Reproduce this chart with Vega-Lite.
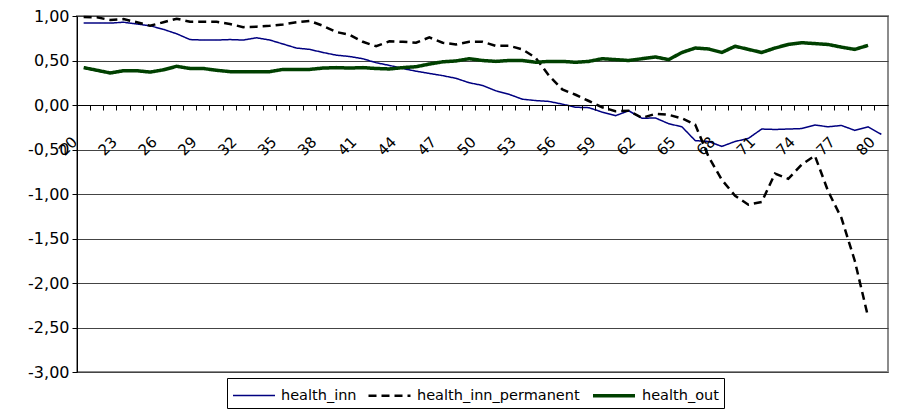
{
  "$schema": "https://vega.github.io/schema/vega-lite/v6.json",
  "width": 811,
  "height": 356,
  "autosize": {"type": "none"},
  "padding": {"left": 77, "top": 16, "right": 20, "bottom": 47},
  "background": "white",
  "config": {
    "view": {"stroke": "#8c8c8c", "strokeWidth": 2},
    "locale": {"number": {"decimal": ",", "thousands": ".", "grouping": [3], "currency": ["", " €"], "minus": "-"}}
  },
  "datasets": {
    "rows": [
      {"age":20,"series":"health_inn","value":0.92},{"age":21,"series":"health_inn","value":0.92},{"age":22,"series":"health_inn","value":0.92},{"age":23,"series":"health_inn","value":0.93},{"age":24,"series":"health_inn","value":0.91},{"age":25,"series":"health_inn","value":0.89},{"age":26,"series":"health_inn","value":0.85},{"age":27,"series":"health_inn","value":0.80},{"age":28,"series":"health_inn","value":0.735},{"age":29,"series":"health_inn","value":0.73},{"age":30,"series":"health_inn","value":0.73},{"age":31,"series":"health_inn","value":0.735},{"age":32,"series":"health_inn","value":0.73},{"age":33,"series":"health_inn","value":0.755},{"age":34,"series":"health_inn","value":0.73},{"age":35,"series":"health_inn","value":0.685},{"age":36,"series":"health_inn","value":0.64},{"age":37,"series":"health_inn","value":0.625},{"age":38,"series":"health_inn","value":0.59},{"age":39,"series":"health_inn","value":0.56},{"age":40,"series":"health_inn","value":0.545},{"age":41,"series":"health_inn","value":0.52},{"age":42,"series":"health_inn","value":0.475},{"age":43,"series":"health_inn","value":0.445},{"age":44,"series":"health_inn","value":0.41},{"age":45,"series":"health_inn","value":0.38},{"age":46,"series":"health_inn","value":0.355},{"age":47,"series":"health_inn","value":0.33},{"age":48,"series":"health_inn","value":0.30},{"age":49,"series":"health_inn","value":0.25},{"age":50,"series":"health_inn","value":0.22},{"age":51,"series":"health_inn","value":0.16},{"age":52,"series":"health_inn","value":0.12},{"age":53,"series":"health_inn","value":0.065},{"age":54,"series":"health_inn","value":0.05},{"age":55,"series":"health_inn","value":0.04},{"age":56,"series":"health_inn","value":0.01},{"age":57,"series":"health_inn","value":-0.025},{"age":58,"series":"health_inn","value":-0.03},{"age":59,"series":"health_inn","value":-0.08},{"age":60,"series":"health_inn","value":-0.12},{"age":61,"series":"health_inn","value":-0.065},{"age":62,"series":"health_inn","value":-0.15},{"age":63,"series":"health_inn","value":-0.145},{"age":64,"series":"health_inn","value":-0.21},{"age":65,"series":"health_inn","value":-0.245},{"age":66,"series":"health_inn","value":-0.40},{"age":67,"series":"health_inn","value":-0.41},{"age":68,"series":"health_inn","value":-0.465},{"age":69,"series":"health_inn","value":-0.41},{"age":70,"series":"health_inn","value":-0.375},{"age":71,"series":"health_inn","value":-0.27},{"age":72,"series":"health_inn","value":-0.275},{"age":73,"series":"health_inn","value":-0.27},{"age":74,"series":"health_inn","value":-0.265},{"age":75,"series":"health_inn","value":-0.225},{"age":76,"series":"health_inn","value":-0.245},{"age":77,"series":"health_inn","value":-0.23},{"age":78,"series":"health_inn","value":-0.285},{"age":79,"series":"health_inn","value":-0.245},{"age":80,"series":"health_inn","value":-0.33},
      {"age":20,"series":"health_inn_permanent","value":0.99},{"age":21,"series":"health_inn_permanent","value":0.985},{"age":22,"series":"health_inn_permanent","value":0.955},{"age":23,"series":"health_inn_permanent","value":0.965},{"age":24,"series":"health_inn_permanent","value":0.93},{"age":25,"series":"health_inn_permanent","value":0.89},{"age":26,"series":"health_inn_permanent","value":0.93},{"age":27,"series":"health_inn_permanent","value":0.97},{"age":28,"series":"health_inn_permanent","value":0.935},{"age":29,"series":"health_inn_permanent","value":0.935},{"age":30,"series":"health_inn_permanent","value":0.935},{"age":31,"series":"health_inn_permanent","value":0.91},{"age":32,"series":"health_inn_permanent","value":0.875},{"age":33,"series":"health_inn_permanent","value":0.88},{"age":34,"series":"health_inn_permanent","value":0.89},{"age":35,"series":"health_inn_permanent","value":0.905},{"age":36,"series":"health_inn_permanent","value":0.93},{"age":37,"series":"health_inn_permanent","value":0.945},{"age":38,"series":"health_inn_permanent","value":0.89},{"age":39,"series":"health_inn_permanent","value":0.82},{"age":40,"series":"health_inn_permanent","value":0.79},{"age":41,"series":"health_inn_permanent","value":0.71},{"age":42,"series":"health_inn_permanent","value":0.66},{"age":43,"series":"health_inn_permanent","value":0.715},{"age":44,"series":"health_inn_permanent","value":0.71},{"age":45,"series":"health_inn_permanent","value":0.70},{"age":46,"series":"health_inn_permanent","value":0.76},{"age":47,"series":"health_inn_permanent","value":0.70},{"age":48,"series":"health_inn_permanent","value":0.68},{"age":49,"series":"health_inn_permanent","value":0.71},{"age":50,"series":"health_inn_permanent","value":0.71},{"age":51,"series":"health_inn_permanent","value":0.665},{"age":52,"series":"health_inn_permanent","value":0.665},{"age":53,"series":"health_inn_permanent","value":0.625},{"age":54,"series":"health_inn_permanent","value":0.53},{"age":55,"series":"health_inn_permanent","value":0.33},{"age":56,"series":"health_inn_permanent","value":0.175},{"age":57,"series":"health_inn_permanent","value":0.115},{"age":58,"series":"health_inn_permanent","value":0.045},{"age":59,"series":"health_inn_permanent","value":-0.025},{"age":60,"series":"health_inn_permanent","value":-0.07},{"age":61,"series":"health_inn_permanent","value":-0.065},{"age":62,"series":"health_inn_permanent","value":-0.145},{"age":63,"series":"health_inn_permanent","value":-0.10},{"age":64,"series":"health_inn_permanent","value":-0.11},{"age":65,"series":"health_inn_permanent","value":-0.15},{"age":66,"series":"health_inn_permanent","value":-0.22},{"age":67,"series":"health_inn_permanent","value":-0.58},{"age":68,"series":"health_inn_permanent","value":-0.84},{"age":69,"series":"health_inn_permanent","value":-1.02},{"age":70,"series":"health_inn_permanent","value":-1.12},{"age":71,"series":"health_inn_permanent","value":-1.09},{"age":72,"series":"health_inn_permanent","value":-0.77},{"age":73,"series":"health_inn_permanent","value":-0.83},{"age":74,"series":"health_inn_permanent","value":-0.67},{"age":75,"series":"health_inn_permanent","value":-0.57},{"age":76,"series":"health_inn_permanent","value":-0.97},{"age":77,"series":"health_inn_permanent","value":-1.27},{"age":78,"series":"health_inn_permanent","value":-1.75},{"age":79,"series":"health_inn_permanent","value":-2.38},
      {"age":20,"series":"health_out","value":0.42},{"age":21,"series":"health_out","value":0.39},{"age":22,"series":"health_out","value":0.36},{"age":23,"series":"health_out","value":0.385},{"age":24,"series":"health_out","value":0.385},{"age":25,"series":"health_out","value":0.37},{"age":26,"series":"health_out","value":0.395},{"age":27,"series":"health_out","value":0.435},{"age":28,"series":"health_out","value":0.41},{"age":29,"series":"health_out","value":0.41},{"age":30,"series":"health_out","value":0.39},{"age":31,"series":"health_out","value":0.375},{"age":32,"series":"health_out","value":0.375},{"age":33,"series":"health_out","value":0.375},{"age":34,"series":"health_out","value":0.375},{"age":35,"series":"health_out","value":0.40},{"age":36,"series":"health_out","value":0.40},{"age":37,"series":"health_out","value":0.40},{"age":38,"series":"health_out","value":0.415},{"age":39,"series":"health_out","value":0.42},{"age":40,"series":"health_out","value":0.415},{"age":41,"series":"health_out","value":0.42},{"age":42,"series":"health_out","value":0.41},{"age":43,"series":"health_out","value":0.405},{"age":44,"series":"health_out","value":0.42},{"age":45,"series":"health_out","value":0.43},{"age":46,"series":"health_out","value":0.46},{"age":47,"series":"health_out","value":0.485},{"age":48,"series":"health_out","value":0.495},{"age":49,"series":"health_out","value":0.52},{"age":50,"series":"health_out","value":0.50},{"age":51,"series":"health_out","value":0.49},{"age":52,"series":"health_out","value":0.50},{"age":53,"series":"health_out","value":0.50},{"age":54,"series":"health_out","value":0.48},{"age":55,"series":"health_out","value":0.49},{"age":56,"series":"health_out","value":0.49},{"age":57,"series":"health_out","value":0.48},{"age":58,"series":"health_out","value":0.49},{"age":59,"series":"health_out","value":0.52},{"age":60,"series":"health_out","value":0.51},{"age":61,"series":"health_out","value":0.50},{"age":62,"series":"health_out","value":0.52},{"age":63,"series":"health_out","value":0.54},{"age":64,"series":"health_out","value":0.51},{"age":65,"series":"health_out","value":0.59},{"age":66,"series":"health_out","value":0.64},{"age":67,"series":"health_out","value":0.63},{"age":68,"series":"health_out","value":0.59},{"age":69,"series":"health_out","value":0.66},{"age":70,"series":"health_out","value":0.625},{"age":71,"series":"health_out","value":0.59},{"age":72,"series":"health_out","value":0.64},{"age":73,"series":"health_out","value":0.68},{"age":74,"series":"health_out","value":0.70},{"age":75,"series":"health_out","value":0.69},{"age":76,"series":"health_out","value":0.68},{"age":77,"series":"health_out","value":0.65},{"age":78,"series":"health_out","value":0.625},{"age":79,"series":"health_out","value":0.67}
    ]
  },
  "data": {"name": "rows"},
  "mark": {"type": "line", "interpolate": "linear"},
  "encoding": {
    "x": {
      "field": "age",
      "type": "ordinal",
      "scale": {"type": "band", "paddingInner": 0, "paddingOuter": 0},
      "axis": {
        "title": null,
        "offset": -267,
        "bandPosition": 0,
        "labelAngle": -45,
        "labelAlign": "right",
        "labelBaseline": "middle",
        "labelExpr": "(datum.value - 20) % 3 == 0 ? datum.label : ''",
        "labelOverlap": false,
        "labelPadding": 29,
        "labelOffset": -9,
        "tickSize": 5,
        "tickColor": "black",
        "domainColor": "black",
        "labelFont": "DejaVu Sans",
        "labelFontSize": 15,
        "labelColor": "black",
        "grid": false,
        "zindex": 1
      }
    },
    "y": {
      "field": "value",
      "type": "quantitative",
      "scale": {"domain": [-3, 1], "nice": false, "zero": false},
      "axis": {
        "title": null,
        "values": [-3, -2.5, -2, -1.5, -1, -0.5, 0, 0.5, 1],
        "format": ".2f",
        "grid": true,
        "gridColor": "#444444",
        "gridWidth": 1,
        "tickSize": 5,
        "tickColor": "black",
        "domainColor": "black",
        "labelFont": "DejaVu Sans",
        "labelFontSize": 16,
        "labelColor": "black",
        "labelPadding": 3
      }
    },
    "color": {
      "field": "series",
      "type": "nominal",
      "scale": {"domain": ["health_inn", "health_inn_permanent", "health_out"], "range": ["#000080", "#000000", "#004000"]},
      "legend": {
        "title": null,
        "orient": "none",
        "legendX": 150,
        "legendY": 362,
        "direction": "horizontal",
        "symbolType": "M-1,0H3",
        "symbolSize": 441,
        "labelFont": "DejaVu Sans",
        "labelFontSize": 14.5,
        "labelColor": "black",
        "labelLimit": 0,
        "strokeColor": "black",
        "padding": 5,
        "columnPadding": 6,
        "labelOffset": 26
      }
    },
    "strokeDash": {
      "field": "series",
      "type": "nominal",
      "scale": {"domain": ["health_inn", "health_inn_permanent", "health_out"], "range": [[1, 0], [8, 5], [1, 0]]}
    },
    "strokeWidth": {
      "field": "series",
      "type": "nominal",
      "scale": {"domain": ["health_inn", "health_inn_permanent", "health_out"], "range": [1.5, 3.5, 4]}
    }
  }
}
